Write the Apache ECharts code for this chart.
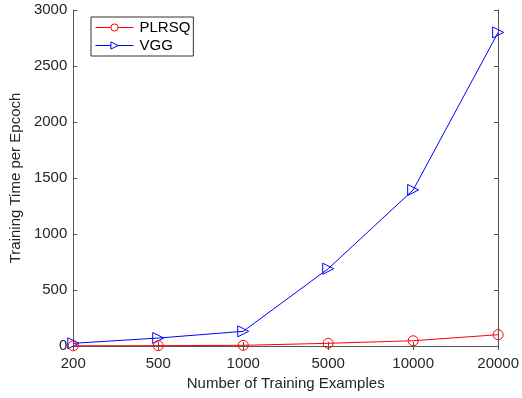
<!DOCTYPE html>
<html><head><meta charset="utf-8">
<script src="https://cdn.jsdelivr.net/npm/echarts@6/dist/echarts.min.js"></script>
<style>html,body{margin:0;padding:0;background:#fff}#c{width:522px;height:398px}</style>
</head><body><div id="c"></div>
<script>
const categories = ['200','500','1000','5000','10000','20000'];
const plrsq = [2, 3, 6, 24, 47, 101];
const vgg = [24, 71, 131, 690, 1393, 2800];
const yTicks = [0, 500, 1000, 1500, 2000, 2500, 3000];

const font = 'Liberation Sans, Arial, Helvetica, sans-serif';
const axisCol = '#555';
const fs = 15;
const chart = echarts.init(document.getElementById('c'));
chart.setOption({
  animation: false,
  backgroundColor: '#fff',
  textStyle: {fontFamily: font},
  grid: {left: 68, right: 22, top: 10, bottom: 52},
  legend: {
    left: 91, top: 17, orient: 'vertical',
    backgroundColor: '#fff', borderColor: '#333', borderWidth: 1,
    padding: [3, 3, 3, 4], itemGap: 3, itemWidth: 38, itemHeight: 9,
    lineStyle: {width: 1},
    textStyle: {fontFamily: font, fontSize: fs, color: '#000', padding: [0, 0, 0, 1]},
    data: [
      {name: 'PLRSQ', itemStyle: {color: '#fff', borderColor: '#ff0000', borderWidth: 1}},
      {name: 'VGG', itemStyle: {color: '#fff', borderColor: '#0000ff', borderWidth: 1}}
    ]
  },
  xAxis: [{
    type: 'category', data: categories, boundaryGap: false,
    name: 'Number of Training Examples', nameLocation: 'middle', nameGap: 29,
    nameTextStyle: {fontSize: fs, color: '#262626', fontFamily: font},
    axisLine: {lineStyle: {color: axisCol}},
    axisTick: {inside: true, length: 4, alignWithLabel: true, lineStyle: {color: axisCol}},
    axisLabel: {fontSize: fs, color: '#262626', margin: 10, fontFamily: font},
    splitLine: {show: false}
  }, {
    type: 'category', data: categories, boundaryGap: false, position: 'top',
    axisLine: {lineStyle: {color: axisCol}},
    axisTick: {inside: true, length: 4, lineStyle: {color: axisCol}},
    axisLabel: {show: false}, splitLine: {show: false}
  }],
  yAxis: [{
    type: 'value', min: yTicks[0], max: yTicks[yTicks.length - 1], interval: 500,
    name: 'Training Time per Epcoch', nameLocation: 'middle', nameGap: 39,
    nameTextStyle: {fontSize: fs, color: '#262626', fontFamily: font},
    axisLine: {show: true, lineStyle: {color: axisCol}},
    axisTick: {show: true, inside: true, length: 4, lineStyle: {color: axisCol}},
    axisLabel: {fontSize: fs, color: '#262626', margin: 6, fontFamily: font, formatter: v => String(v)},
    splitLine: {show: false}
  }, {
    type: 'value', min: yTicks[0], max: yTicks[yTicks.length - 1], interval: 500, position: 'right',
    axisLine: {show: true, lineStyle: {color: axisCol}},
    axisTick: {show: true, inside: true, length: 4, lineStyle: {color: axisCol}},
    axisLabel: {show: false}, splitLine: {show: false}
  }],
  series: [{
    name: 'PLRSQ', type: 'line', data: plrsq,
    symbol: 'circle', symbolSize: 10,
    lineStyle: {color: '#ff0000', width: 1},
    itemStyle: {color: 'rgba(255,255,255,0)', borderColor: '#ff0000', borderWidth: 1},
    z: 3
  }, {
    name: 'VGG', type: 'line', data: vgg,
    symbol: 'triangle', symbolSize: 11, symbolRotate: -90,
    lineStyle: {color: '#0000ff', width: 1},
    itemStyle: {color: 'rgba(255,255,255,0)', borderColor: '#0000ff', borderWidth: 1},
    z: 2
  }]
});
</script></body></html>
